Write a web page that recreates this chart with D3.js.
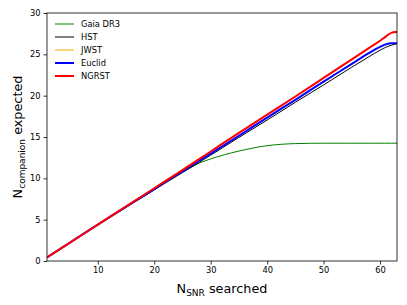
<!DOCTYPE html>
<html>
<head>
<meta charset="utf-8">
<script src="https://cdn.jsdelivr.net/npm/d3@7"></script>
<style>
  body { margin: 0; background: #fff; }
  text { font-family: "DejaVu Sans", sans-serif; }
</style>
</head>
<body>
<div id="chart-container"></div>
<script>
// values
var nSearched = [1, 5, 10, 15, 20, 22, 25, 28, 30, 35, 40, 45, 50, 55, 58, 60, 61, 62, 63];
var gaia   = [0.44, 2.2, 4.4, 6.55, 8.7, 9.55, 10.75, 11.85, 12.35, 13.3, 13.95, 14.2, 14.25, 14.25, 14.25, 14.25, 14.25, 14.25, 14.25];
var hst    = [0.44, 2.2, 4.4, 6.5, 8.6, 9.45, 10.7, 11.95, 12.8, 14.95, 17.05, 19.2, 21.3, 23.45, 24.7, 25.5, 25.85, 26.1, 26.3];
var jwst   = [0.44, 2.2, 4.4, 6.6, 8.8, 9.7, 11.0, 12.35, 13.25, 15.5, 17.7, 19.9, 22.15, 24.4, 25.75, 26.65, 27.15, 27.65, 27.8];
var euclid = [0.44, 2.2, 4.4, 6.55, 8.7, 9.6, 10.85, 12.15, 13.0, 15.15, 17.35, 19.5, 21.7, 23.85, 25.15, 25.9, 26.2, 26.35, 26.35];
var ngrst  = [0.44, 2.2, 4.4, 6.6, 8.8, 9.7, 11.0, 12.35, 13.25, 15.5, 17.7, 19.9, 22.15, 24.4, 25.75, 26.65, 27.15, 27.6, 27.7];
var yTicks = [0, 5, 10, 15, 20, 25, 30];
var xTicks = [10, 20, 30, 40, 50, 60];

var series = [
    {name: "Gaia DR3", values: gaia, color: "#008000", width: 1},
    {name: "HST", values: hst, color: "#000000", width: 1},
    {name: "JWST", values: jwst, color: "#ffa500", width: 1},
    {name: "Euclid", values: euclid, color: "#0000ff", width: 2},
    {name: "NGRST", values: ngrst, color: "#ff0000", width: 2}
];

var margin = {top: 13, right: 10, bottom: 44, left: 47};
var width = 407 - margin.left - margin.right,
    height = 305 - margin.top - margin.bottom;

var svg = d3.select("#chart-container")
    .append("svg")
    .attr("width", 407)
    .attr("height", 305)
    .append("g")
    .attr("transform", "translate(" + margin.left + "," + margin.top + ")");

var x = d3.scaleLinear().domain([1, 63]).range([0, width]);
var y = d3.scaleLinear().domain([0, 30]).range([height, 0]);

svg.append("defs").append("clipPath").attr("id", "clip")
    .append("rect").attr("width", width).attr("height", height);

var line = d3.line()
    .curve(d3.curveMonotoneX)
    .x(function(d, i) { return x(nSearched[i]); })
    .y(function(d) { return y(d); });

svg.append("g").attr("clip-path", "url(#clip)")
    .selectAll("path")
    .data(series)
    .enter().append("path")
    .attr("fill", "none")
    .attr("stroke", function(d) { return d.color; })
    .attr("stroke-width", function(d) { return d.width; })
    .attr("d", function(d) { return line(d.values); });

var xAxis = d3.axisBottom(x).tickValues(xTicks).tickSize(3.5).tickPadding(3);
var yAxis = d3.axisLeft(y).tickValues(yTicks).tickSize(3.5).tickPadding(3);

svg.append("g")
    .attr("class", "x-axis")
    .attr("transform", "translate(0," + height + ")")
    .call(xAxis);
svg.append("g")
    .attr("class", "y-axis")
    .call(yAxis);

svg.selectAll(".x-axis text, .y-axis text").style("font-size", "8.3px").attr("fill", "#000");
svg.selectAll(".domain").remove();
svg.selectAll(".tick line").attr("stroke", "#000").attr("stroke-width", 0.8);

// frame
svg.append("rect")
    .attr("width", width).attr("height", height)
    .attr("fill", "none").attr("stroke", "#000").attr("stroke-width", 0.8);

// axis labels
var xl = svg.append("text")
    .attr("x", width / 2)
    .attr("y", height + 32)
    .attr("text-anchor", "middle")
    .style("font-size", "12.8px");
xl.append("tspan").text("N");
xl.append("tspan").attr("dy", 3).style("font-size", "9px").text("SNR");
xl.append("tspan").attr("dy", -3).text(" searched");

var yl = svg.append("text")
    .attr("transform", "rotate(-90)")
    .attr("x", -(height / 2))
    .attr("y", -25)
    .attr("text-anchor", "middle")
    .style("font-size", "12.8px");
yl.append("tspan").text("N");
yl.append("tspan").attr("dy", 3).style("font-size", "9px").text("companion");
yl.append("tspan").attr("dy", -3).text(" expected");

// legend
var legend = svg.append("g").attr("transform", "translate(8,11)");
series.forEach(function(s, i) {
    var g = legend.append("g").attr("transform", "translate(0," + (i * 13) + ")");
    g.append("line")
        .attr("x1", 0).attr("x2", 19)
        .attr("stroke", s.color).attr("stroke-width", s.width);
    g.append("text")
        .attr("x", 26).attr("y", 3)
        .style("font-size", "8.3px")
        .text(s.name);
});
</script>
</body>
</html>
